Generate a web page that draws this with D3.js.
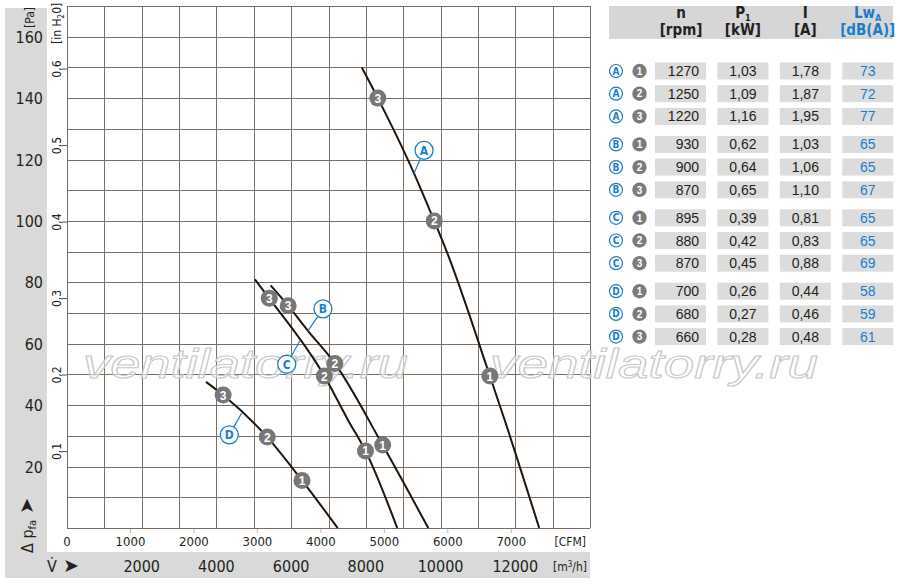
<!DOCTYPE html>
<html lang="en">
<head>
  <meta charset="utf-8">
  <title>Fan curves</title>
  <script src="https://cdnjs.cloudflare.com/ajax/libs/d3/7.8.5/d3.min.js"></script>
  <style>
    html, body { margin: 0; padding: 0; background: #fff; }
    svg { display: block; }
    text { font-family: 'Liberation Sans', Arial, sans-serif; fill: #231f20; }
    .narrow { font-family: 'Liberation Sans Narrow', 'DejaVu Sans Condensed', 'Arial Narrow', sans-serif; }
    .grid line { stroke: #7a6e63; stroke-width: 1; shape-rendering: crispEdges; }
    .curve { fill: none; stroke: #1f150c; stroke-width: 2; }
    .blue { fill: #1a7dc8; }
  </style>
</head>
<body>
<svg id="chart" width="900" height="585"></svg>
<script>
// ---- data ----
// characteristic curves: [flow m3/h, pressure Pa]
var curveA = [[7890,150],[8320,140],[9290,115.5],[9830,100],[10150,90.5],[11320,49.5],[11720,35],[12640,0]];
var curveB = [[5450,79],[5920,72.4],[6450,64.2],[7170,53.6],[8450,27],[9670,0]];
var curveC = [[5030,81],[5415,74.8],[6890,49.5],[7520,35.2],[7990,25.1],[8840,0]];
var curveD = [[3720,47.6],[4180,43.3],[5360,29.6],[6290,15.5],[7245,0]];

// operating points 1, 2, 3 on each curve
var pointsA = [[11320,49.5],[9830,100],[8320,140]];
var pointsB = [[8450,27],[7170,53.6],[5920,72.4]];
var pointsC = [[7990,25.1],[6890,49.5],[5415,74.8]];
var pointsD = [[6290,15.5],[5360,29.6],[4180,43.3]];

// flow where the letter callout touches its curve
var calloutFlow = { A: 9290, B: 6450, C: 6230, D: 4680 };

// axis ticks
var paTicks = [20,40,60,80,100,120,140,160];
var inH2OTicks = [0.1,0.2,0.3,0.4,0.5,0.6];
var cfmTicks = [0,1000,2000,3000,4000,5000,6000,7000];
var m3hTicks = [2000,4000,6000,8000,10000,12000];

// table
var letters = ["A","B","C","D"];
var speeds = [1,2,3];
var rpm = [1270,1250,1220,930,900,870,895,880,870,700,680,660];
var power = [1.03,1.09,1.16,0.62,0.64,0.65,0.39,0.42,0.45,0.26,0.27,0.28];
var current = [1.78,1.87,1.95,1.03,1.06,1.10,0.81,0.83,0.88,0.44,0.46,0.48];
var lwa = [73,72,77,65,65,67,65,65,69,58,59,61];

// ---- drawing ----
var svg = d3.select("#chart");
var gray = "#d9d9d9";
var blue = "#1a7dc8";

var x = d3.scaleLinear().domain([0, 14000]).range([67, 590]);
var y = d3.scaleLinear().domain([0, 170]).range([528, 6]);
var cfm = function (v) { return x(v * 1.699); };
var inh = function (v) { return y(v * 249.089); };

// gray bands
svg.append("rect").attr("x", 5).attr("y", 8).attr("width", 42).attr("height", 570).attr("fill", gray);
svg.append("rect").attr("x", 5).attr("y", 552).attr("width", 585).attr("height", 26).attr("fill", gray);

// grid
var grid = svg.append("g").attr("class", "grid");
grid.selectAll(".v").data(d3.range(0, 14001, 1000)).enter().append("line")
  .attr("x1", d => Math.round(x(d)) + 0.5).attr("x2", d => Math.round(x(d)) + 0.5)
  .attr("y1", y(170)).attr("y2", y(0));
grid.selectAll(".h").data(d3.range(0, 171, 10)).enter().append("line")
  .attr("y1", d => Math.round(y(d)) + 0.5).attr("y2", d => Math.round(y(d)) + 0.5)
  .attr("x1", x(0)).attr("x2", x(14000));

// watermark
[[83, 408], [490, 818]].forEach(function (w) {
  svg.append("text")
    .attr("x", w[0]).attr("y", 378)
    .attr("textLength", w[1] - w[0]).attr("lengthAdjust", "spacingAndGlyphs")
    .style("font-size", "40px").style("font-style", "italic")
    .style("fill", "rgba(255,255,255,0.55)").style("stroke", "#c8c8c8").style("stroke-width", 1)
    .text("ventilatorry.ru");
});

// Pa axis
svg.selectAll(".pa").data(paTicks).enter().append("text").attr("class", "narrow")
  .attr("x", 43).attr("y", d => y(d) + 6).attr("text-anchor", "end")
  .style("font-size", "16px").text(d => d);
svg.append("text").attr("class", "narrow")
  .attr("transform", "translate(34,28) rotate(-90)")
  .style("font-size", "12px").text("[Pa]");

// in H2O axis
var ih = svg.append("g");
ih.selectAll("line").data(inH2OTicks).enter().append("line")
  .attr("x1", 62).attr("x2", 67).attr("y1", d => inh(d)).attr("y2", d => inh(d))
  .attr("stroke", "#555").attr("stroke-width", 1);
ih.selectAll("text").data(inH2OTicks).enter().append("text").attr("class", "narrow")
  .attr("transform", d => "translate(61," + inh(d) + ") rotate(-90)")
  .attr("text-anchor", "middle").style("font-size", "12px")
  .text(d => String(d).replace(".", ","));
var ihl = svg.append("text").attr("class", "narrow")
  .attr("transform", "translate(61,44) rotate(-90)").style("font-size", "12px");
ihl.append("tspan").text("[in H");
ihl.append("tspan").attr("dy", 3).style("font-size", "8px").text("2");
ihl.append("tspan").attr("dy", -3).text("0]");

var dp = svg.append("text").attr("class", "narrow")
  .attr("transform", "translate(33,553) rotate(-90)").style("font-size", "16px");
dp.append("tspan").text("\u0394 p");
dp.append("tspan").attr("dy", 3).style("font-size", "11px").text("fa");
dp.append("tspan").attr("dy", -3).style("font-family", "'DejaVu Sans', sans-serif").style("font-size", "19px").text(" \u27A4");

// CFM axis
svg.selectAll(".cfmt").data(cfmTicks.slice(1)).enter().append("line")
  .attr("x1", d => cfm(d)).attr("x2", d => cfm(d)).attr("y1", 529).attr("y2", 533)
  .attr("stroke", "#bbb");
svg.selectAll(".cfm").data(cfmTicks).enter().append("text").attr("class", "narrow")
  .attr("x", d => cfm(d)).attr("y", 546).attr("text-anchor", "middle")
  .style("font-size", "13px").text(d => d);
svg.append("text").attr("class", "narrow").attr("x", 586).attr("y", 546)
  .attr("text-anchor", "end").style("font-size", "12px").text("[CFM]");

// m3/h axis
svg.selectAll(".m3h").data(m3hTicks).enter().append("text").attr("class", "narrow")
  .attr("x", d => x(d)).attr("y", 572).attr("text-anchor", "middle")
  .style("font-size", "16px").text(d => d);
var mu = svg.append("text").attr("class", "narrow").attr("x", 587).attr("y", 571)
  .attr("text-anchor", "end").style("font-size", "12px");
mu.append("tspan").text("[m");
mu.append("tspan").attr("dy", -4).style("font-size", "8px").text("3");
mu.append("tspan").attr("dy", 4).text("/h]");
var vl = svg.append("text").attr("class", "narrow").attr("x", 47).attr("y", 572).style("font-size", "16px");
vl.append("tspan").text("V\u0307");
vl.append("tspan").style("font-family", "'DejaVu Sans', sans-serif").style("font-size", "19px").text(" \u27A4");

// curves
var line = d3.line().x(d => x(d[0])).y(d => y(d[1])).curve(d3.curveMonotoneX);
var curves = { A: curveA, B: curveB, C: curveC, D: curveD };
var points = { A: pointsA, B: pointsB, C: pointsC, D: pointsD };
var offsets = { A: [10, -23], B: [15, -22], C: [-13, 23], D: [-12.5, 22] };

letters.forEach(function (k) {
  svg.append("path").attr("class", "curve").attr("d", line(curves[k]));
});

function pressureAt(c, v) {
  var i = d3.bisector(d => d[0]).left(c, v);
  var a = c[Math.max(0, i - 1)], b = c[Math.min(c.length - 1, i)];
  if (a === b) return a[1];
  return a[1] + (b[1] - a[1]) * (v - a[0]) / (b[0] - a[0]);
}

// callouts
letters.forEach(function (k) {
  var v = calloutFlow[k];
  var ax = x(v), ay = y(pressureAt(curves[k], v));
  var cx = ax + offsets[k][0], cy = ay + offsets[k][1];
  svg.append("line").attr("x1", ax).attr("y1", ay).attr("x2", cx).attr("y2", cy)
    .attr("stroke", blue).attr("stroke-width", 1.2);
  svg.append("circle").attr("cx", cx).attr("cy", cy).attr("r", 9)
    .attr("fill", "#fff").attr("stroke", blue).attr("stroke-width", 1.3);
  svg.append("text").attr("class", "narrow blue").attr("x", cx).attr("y", cy + 4.5)
    .attr("text-anchor", "middle").style("font-size", "12px").style("font-weight", "bold").text(k);
});

// operating points
letters.forEach(function (k) {
  var g = svg.append("g");
  g.selectAll("circle").data(points[k]).enter().append("circle")
    .attr("cx", d => x(d[0])).attr("cy", d => y(d[1])).attr("r", 8.5).attr("fill", "#777");
  g.selectAll("text").data(points[k]).enter().append("text")
    .attr("x", d => x(d[0])).attr("y", d => y(d[1]) + 4.5).attr("text-anchor", "middle")
    .style("fill", "#fff").style("font-size", "12px").style("font-weight", "bold")
    .text((d, i) => speeds[i]);
});

// ---- table ----
var colX = [655, 717.4, 779.8, 842.2];
var colW = 51;
svg.append("rect").attr("x", 609).attr("y", 6).attr("width", 284).attr("height", 33).attr("fill", "#d6d6d6");

var heads = [["n", null, "[rpm]"], ["P", "1", "[kW]"], ["I", null, "[A]"], ["Lw", "A", "[dB(A)]"]];
heads.forEach(function (h, c) {
  var cx = colX[c] + colW / 2 + (c === 0 ? 0.5 : 0);
  var t = svg.append("text").attr("class", "narrow" + (c === 3 ? " blue" : ""))
    .attr("x", cx).attr("y", 18).attr("text-anchor", "middle")
    .style("font-size", "15px").style("font-weight", "bold");
  t.append("tspan").text(h[0]);
  if (h[1]) t.append("tspan").attr("dy", 3).style("font-size", "9px").text(h[1]);
  svg.append("text").attr("class", "narrow" + (c === 3 ? " blue" : ""))
    .attr("x", cx).attr("y", 35).attr("text-anchor", "middle")
    .style("font-size", "15px").style("font-weight", "bold").text(h[2]);
});

var fmt = d3.format(".2f");
var comma = v => fmt(v).replace(".", ",");
rpm.forEach(function (n, i) {
  var g = Math.floor(i / 3), s = i % 3;
  var cy = 71 + g * 73.4 + s * 22.7;
  colX.forEach(function (cx) {
    svg.append("rect").attr("x", cx).attr("y", cy - 8.5).attr("width", colW).attr("height", 17).attr("fill", "#dcdcdc");
  });
  svg.append("circle").attr("cx", 616).attr("cy", cy).attr("r", 6.5)
    .attr("fill", "#fff").attr("stroke", blue).attr("stroke-width", 1.2);
  svg.append("text").attr("class", "narrow blue").attr("x", 616).attr("y", cy + 3.5)
    .attr("text-anchor", "middle").style("font-size", "10px").style("font-weight", "bold").text(letters[g]);
  svg.append("circle").attr("cx", 639.5).attr("cy", cy).attr("r", 7.2).attr("fill", "#7b7b7b");
  svg.append("text").attr("x", 639.5).attr("y", cy + 3.7).attr("text-anchor", "middle")
    .style("fill", "#fff").style("font-size", "10px").style("font-weight", "bold").text(speeds[s]);

  svg.append("text").attr("x", colX[0] + 44).attr("y", cy + 5).attr("text-anchor", "end")
    .style("font-size", "14px").text(n);
  svg.append("text").attr("x", colX[1] + colW / 2).attr("y", cy + 5).attr("text-anchor", "middle")
    .style("font-size", "14px").text(comma(power[i]));
  svg.append("text").attr("x", colX[2] + colW / 2).attr("y", cy + 5).attr("text-anchor", "middle")
    .style("font-size", "14px").text(comma(current[i]));
  svg.append("text").attr("class", "blue").attr("x", colX[3] + colW / 2).attr("y", cy + 5).attr("text-anchor", "middle")
    .style("font-size", "14px").text(lwa[i]);
});
</script>
</body>
</html>
